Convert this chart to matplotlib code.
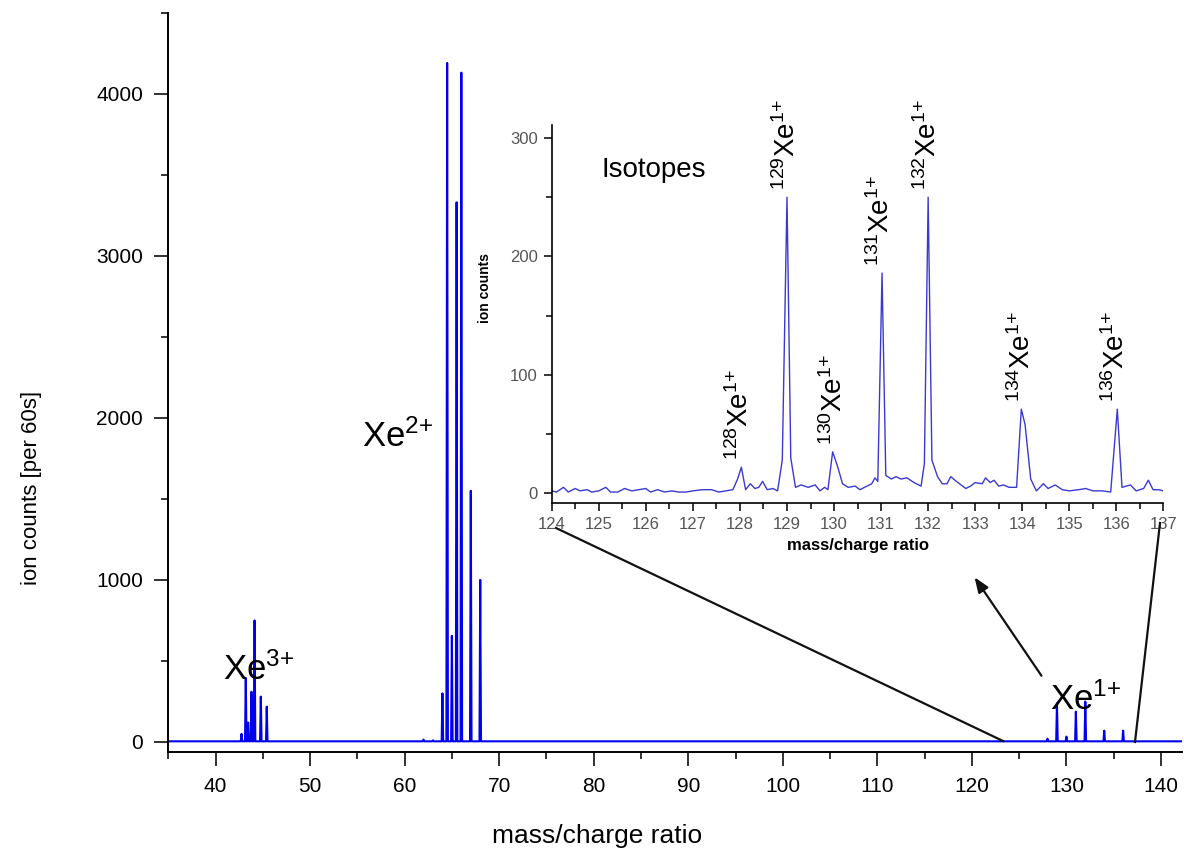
import numpy as np
import matplotlib
matplotlib.use('Agg')
import matplotlib.pyplot as plt
from matplotlib.ticker import MultipleLocator

plt.rcParams['font.family'] = ['Liberation Sans', 'DejaVu Sans']
plt.rcParams['mathtext.fontset'] = 'custom'
plt.rcParams['mathtext.rm'] = 'Liberation Sans'
plt.rcParams['mathtext.it'] = 'Liberation Sans'
plt.rcParams['mathtext.default'] = 'regular'

# Espectro completo: posições e alturas dos picos
picos_mz = [42.75, 43.2, 43.45, 43.8, 44.13, 44.79, 45.42,
            62.0, 63.0,
            64.0, 64.5, 65.0, 65.5, 66.0, 67.0, 68.0,
            128.0, 129.0, 130.0, 131.0, 132.0, 134.0, 136.0]
picos_contagens = [50, 395, 120, 310, 750, 280, 218,
                   15, 10,
                   300, 4190, 655, 3330, 4130, 1550, 1000,
                   20, 239, 33, 187, 249, 70, 70]

# Ampliação dos isótopos (Xe 1+)
iso_mz = [124.0, 124.1, 124.25, 124.35, 124.5, 124.6, 124.75, 124.85, 125.0, 125.15,
          125.25, 125.4, 125.55, 125.7, 125.85, 126.0, 126.1, 126.25, 126.4, 126.55,
          126.7, 126.85, 127.0, 127.2, 127.4, 127.55, 127.7, 127.85, 127.95, 128.03,
          128.12, 128.22, 128.32, 128.4, 128.48, 128.58, 128.7, 128.8, 128.9, 129.0,
          129.08, 129.18, 129.3, 129.45, 129.6, 129.7, 129.8, 129.87, 129.97, 130.08,
          130.18, 130.3, 130.45, 130.55, 130.7, 130.8, 130.87, 130.93, 131.02, 131.1,
          131.22, 131.32, 131.42, 131.55, 131.7, 131.85, 131.92, 132.0, 132.08, 132.2,
          132.3, 132.4, 132.48, 132.6, 132.8, 132.9, 133.0, 133.15, 133.22, 133.32,
          133.4, 133.5, 133.6, 133.72, 133.88, 133.98, 134.06, 134.18, 134.3, 134.45,
          134.55, 134.7, 134.85, 135.0, 135.2, 135.35, 135.5, 135.7, 135.88, 136.02,
          136.12, 136.3, 136.42, 136.58, 136.68, 136.78, 136.9, 137.0]
iso_contagens = [2, 1, 5, 1, 4, 2, 3, 1, 2, 5,
                 1, 1, 4, 2, 3, 4, 1, 3, 1, 2,
                 1, 1, 2, 3, 3, 1, 2, 3, 12, 22,
                 3, 8, 4, 5, 10, 3, 4, 2, 28, 250,
                 30, 5, 7, 5, 7, 2, 5, 3, 35, 22,
                 8, 5, 6, 3, 6, 8, 13, 10, 186, 15,
                 12, 14, 12, 13, 9, 6, 25, 250, 28, 14,
                 8, 8, 14, 10, 4, 6, 9, 8, 13, 9,
                 11, 6, 7, 5, 5, 71, 58, 12, 2, 8,
                 4, 7, 3, 2, 3, 4, 2, 2, 1, 71,
                 5, 7, 2, 4, 11, 3, 3, 2]

isotopos = [128, 129, 130, 131, 132, 134, 136]
isotopos_altura = [22, 250, 35, 186, 250, 71, 71]

# Montagem da linha do espectro completo (picos estreitos sobre a linha de base)
LINHA_BASE = 4
MEIA_LARGURA = 0.08
XMIN, XMAX = 35, 142.2
linha_x = [XMIN]
linha_y = [LINHA_BASE]
for mz, cont in zip(picos_mz, picos_contagens):
    linha_x += [mz - MEIA_LARGURA, mz, mz + MEIA_LARGURA]
    linha_y += [LINHA_BASE, cont, LINHA_BASE]
linha_x.append(XMAX)
linha_y.append(LINHA_BASE)

fig = plt.figure(figsize=(11.84, 8.58), dpi=100)
ax = fig.add_axes([0.1421, 0.1239, 0.856, 0.8613])
ax.plot(linha_x, linha_y, color='#0000ee', lw=1.5)
ax.set_xlim(XMIN, XMAX)
ax.set_ylim(-60, 4500)
ax.spines['top'].set_visible(False)
ax.spines['right'].set_visible(False)
for s in ['left', 'bottom']:
    ax.spines[s].set_linewidth(1.4)
ax.xaxis.set_major_locator(MultipleLocator(10))
ax.xaxis.set_minor_locator(MultipleLocator(5))
ax.yaxis.set_major_locator(MultipleLocator(1000))
ax.yaxis.set_minor_locator(MultipleLocator(500))
ax.tick_params(which='major', length=10, width=1.3, labelsize=15, pad=8, color='#222222')
ax.tick_params(which='minor', length=5, width=1.3, color='#222222')
ax.set_xlabel('mass/charge ratio', fontsize=19)
ax.xaxis.set_label_coords(0.423, -0.098)
ax.set_ylabel('ion counts [per 60s]', fontsize=16)
ax.yaxis.set_label_coords(-0.125, 0.357)

ax.text(40.74, 383, r'Xe$^{3{+}}$', fontsize=25)
ax.text(55.5, 1821, r'Xe$^{2{+}}$', fontsize=25)
ax.text(128.3, 198, r'Xe$^{1{+}}$', fontsize=25)

# Inset com os isótopos
axi = fig.add_axes([0.466, 0.4134, 0.5166, 0.4409])
axi.plot(iso_mz, iso_contagens, color='#3a3ad0', lw=1.0)
axi.set_xlim(124, 137)
axi.set_ylim(-8.5, 311)
axi.spines['top'].set_visible(False)
axi.spines['right'].set_visible(False)
for s in ['left', 'bottom']:
    axi.spines[s].set_linewidth(1.2)
axi.xaxis.set_major_locator(MultipleLocator(1))
axi.xaxis.set_minor_locator(MultipleLocator(0.5))
axi.yaxis.set_major_locator(MultipleLocator(100))
axi.yaxis.set_minor_locator(MultipleLocator(50))
axi.tick_params(which='major', length=6, width=1.1, labelsize=12, labelcolor='#555555', pad=4)
axi.tick_params(which='minor', length=4, width=1.1)
axi.set_xlabel('mass/charge ratio', fontsize=12, fontweight='bold')
axi.set_ylabel('ion counts', fontsize=10, fontweight='bold')
axi.yaxis.set_label_coords(-0.097, 0.569)
axi.text(125.06, 267, 'Isotopes', fontsize=20)

for iso, alt in zip(isotopos, isotopos_altura):
    axi.text(iso, alt + 6, r'$^{%d}$Xe$^{1{+}}$' % iso, fontsize=20,
             rotation=90, ha='center', va='bottom')

# Linhas de ligação e seta (coordenadas em pixels da figura)
fig.add_artist(plt.Line2D([556 / 1184, 1003 / 1184], [1 - 528 / 858, 1 - 741 / 858],
                          color='#111111', lw=1.6))
fig.add_artist(plt.Line2D([1160 / 1184, 1135 / 1184], [1 - 523 / 858, 1 - 742 / 858],
                          color='#111111', lw=1.6))
ax.annotate('', xy=(973 / 1184, 1 - 575 / 858), xycoords='figure fraction',
            xytext=(1043 / 1184, 1 - 678 / 858), textcoords='figure fraction',
            arrowprops=dict(arrowstyle='-|>,head_length=0.9,head_width=0.35',
                            color='#111111', lw=1.6))

fig.savefig('out.png', dpi=100)
